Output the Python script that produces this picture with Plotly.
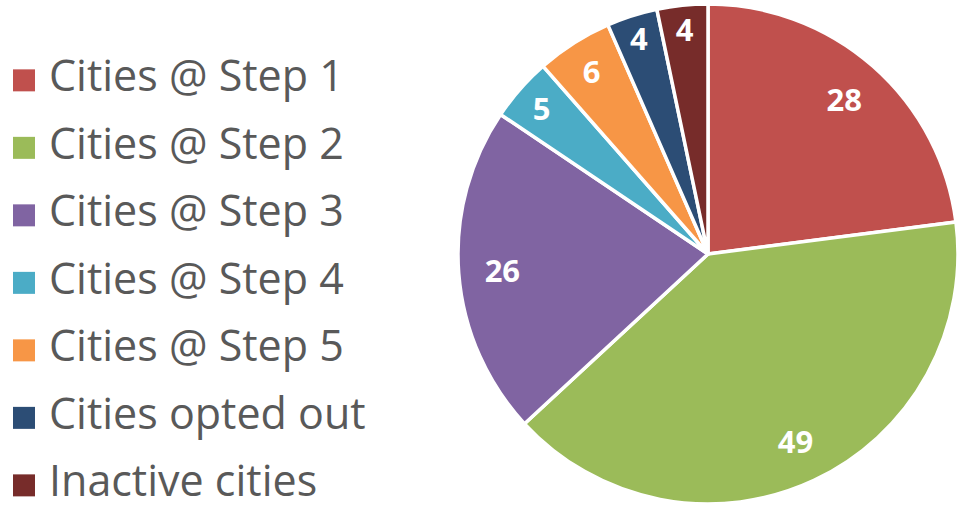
import plotly.graph_objects as go

# Données
categories = [
    "Cities @ Step 1",
    "Cities @ Step 2",
    "Cities @ Step 3",
    "Cities @ Step 4",
    "Cities @ Step 5",
    "Cities opted out",
    "Inactive cities",
]
values = [28, 49, 26, 5, 6, 4, 4]
colors = ["#C0504D", "#9BBB59", "#8064A2", "#4BACC6", "#F79646", "#2C4D75", "#772C2A"]

pie_domain = dict(x=[1 - 500 / 958, 1], y=[0, 1])

fig = go.Figure()

# Camembert (secteurs)
fig.add_trace(
    go.Pie(
        labels=categories,
        values=values,
        sort=False,
        direction="clockwise",
        rotation=0,
        textinfo="none",
        marker=dict(colors=colors, line=dict(color="white", width=3.5)),
        domain=pie_domain,
        showlegend=False,
    )
)

# Étiquettes : anneau transparent pour placer les valeurs vers l'extérieur
fig.add_trace(
    go.Pie(
        labels=categories,
        values=values,
        sort=False,
        direction="clockwise",
        rotation=0,
        hole=0.65,
        texttemplate="%{value}",
        textposition="inside",
        insidetextorientation="horizontal",
        textfont=dict(family="Open Sans", size=31, color="white", weight="bold"),
        marker=dict(colors=["rgba(0,0,0,0)"] * len(values), line=dict(width=0)),
        domain=pie_domain,
        showlegend=False,
        hoverinfo="skip",
    )
)

# Légende : carrés
fig.add_trace(
    go.Scatter(
        x=[0] * len(categories),
        y=categories,
        mode="markers",
        marker=dict(symbol="square", size=22, color=colors),
        hoverinfo="skip",
        showlegend=False,
        cliponaxis=False,
    )
)

# Légende : textes
fig.add_trace(
    go.Scatter(
        x=[25] * len(categories),
        y=categories,
        mode="text",
        text=categories,
        textposition="middle right",
        textfont=dict(family="Open Sans", size=43, color="#595959"),
        hoverinfo="skip",
        showlegend=False,
        cliponaxis=False,
    )
)

fig.update_layout(
    width=958,
    height=508,
    margin=dict(l=0, r=0, t=4, b=4),
    paper_bgcolor="white",
    plot_bgcolor="white",
    xaxis=dict(
        domain=[0, 400 / 958],
        range=[-24, 376],
        visible=False,
        fixedrange=True,
    ),
    yaxis=dict(
        type="category",
        categoryorder="array",
        categoryarray=categories,
        range=[6.276, -1.131],
        visible=False,
        fixedrange=True,
    ),
)

fig.write_html(
    "out.html",
    config={"displayModeBar": False},
    post_script="document.body.style.margin='0px';",
)
